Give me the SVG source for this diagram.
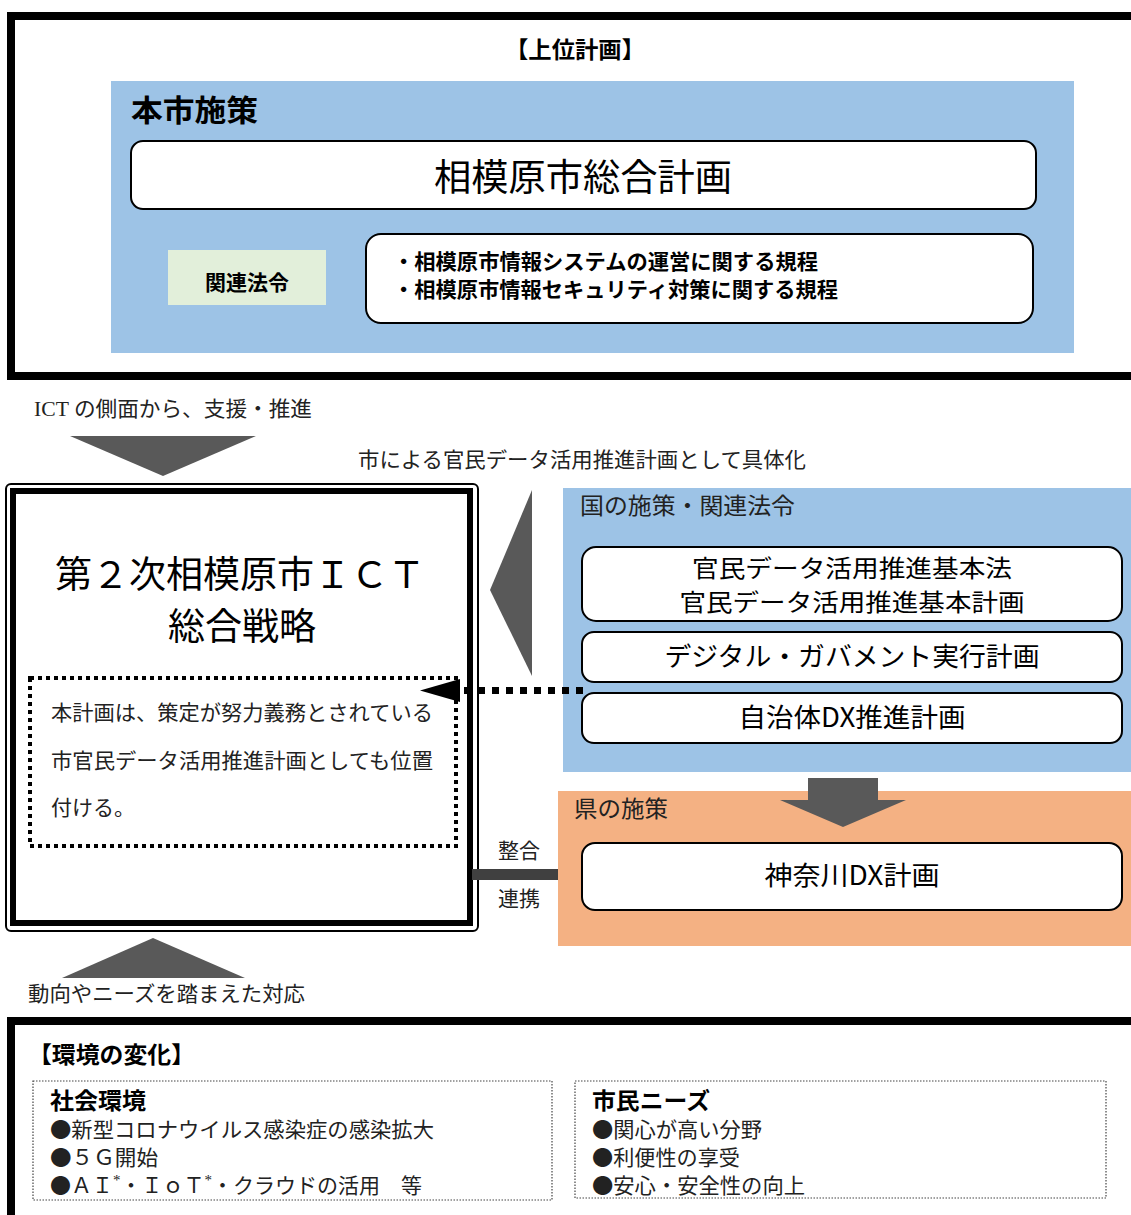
<svg xmlns="http://www.w3.org/2000/svg" width="1131" height="1215" viewBox="0 0 1131 1215">
<style>
.sans{font-family:"Noto Sans CJK JP","Noto Sans",sans-serif;fill:#000}
.b{font-weight:bold}
.ser{font-family:"Liberation Serif","Noto Sans CJK JP",serif;fill:#222}
.cjk{font-family:"Noto Sans CJK JP","Liberation Serif",sans-serif;fill:#222}
.ast{font-family:"Liberation Serif",serif;font-size:15px}
.box{fill:#fff;stroke:#000;stroke-width:2}
.tri{fill:#595959}
.dot{fill:none;stroke:#444;stroke-width:1.2;stroke-dasharray:1.5 1.5}
</style>
<rect width="1131" height="1215" fill="#fff"/>

<g id="upper-plan">
<rect x="11" y="16" width="1130" height="360" fill="none" stroke="#000" stroke-width="8"/>
<text class="sans b" x="505" y="58" font-size="23" textLength="140" lengthAdjust="spacingAndGlyphs">【上位計画】</text>
<rect x="111" y="81" width="963" height="272" fill="#9DC3E6"/>
<text class="sans b" x="131" y="121" font-size="30" textLength="127" lengthAdjust="spacingAndGlyphs">本市施策</text>
</g>
<g id="sogo-keikaku">
<rect class="box" x="131" y="141" width="905" height="68" rx="12"/>
<text class="sans" x="583" y="191" font-size="37" text-anchor="middle" textLength="298" lengthAdjust="spacingAndGlyphs">相模原市総合計画</text>
</g>
<g id="kanren-hourei">
<rect x="168" y="250" width="158" height="55" fill="#E2EFDA"/>
<text class="sans b" x="247" y="290" font-size="21" text-anchor="middle">関連法令</text>
</g>
<g id="kitei">
<rect class="box" x="366" y="234" width="667" height="89" rx="15"/>
<text class="sans b" x="393" y="269" font-size="21" textLength="425" lengthAdjust="spacingAndGlyphs">・相模原市情報システムの運営に関する規程</text>
<text class="sans b" x="393" y="297" font-size="21" textLength="445" lengthAdjust="spacingAndGlyphs">・相模原市情報セキュリティ対策に関する規程</text>
</g>

<g id="ict-strategy">
<rect x="6" y="484" width="472" height="447" rx="5" fill="#fff" stroke="#000" stroke-width="2"/>
<rect x="13" y="491" width="457" height="432" fill="none" stroke="#000" stroke-width="6"/>
<text class="sans" x="240" y="588" font-size="37" text-anchor="middle" textLength="370" lengthAdjust="spacingAndGlyphs">第２次相模原市ＩＣＴ</text>
<text class="sans" x="242" y="640" font-size="37" text-anchor="middle">総合戦略</text>
<rect x="30" y="678" width="426" height="168" fill="none" stroke="#000" stroke-width="4" stroke-dasharray="4 4"/>
<text class="ser" x="51" y="720" font-size="21" textLength="382" lengthAdjust="spacingAndGlyphs">本計画は、策定が努力義務とされている</text>
<text class="ser" x="51" y="768" font-size="21" textLength="382" lengthAdjust="spacingAndGlyphs">市官民データ活用推進計画としても位置</text>
<text class="ser" x="51" y="815" font-size="21">付ける。</text>
</g>

<g id="kuni">
<rect x="563" y="488" width="570" height="284" fill="#9DC3E6"/>
<text class="ser" x="580" y="514" font-size="23" textLength="215" lengthAdjust="spacingAndGlyphs">国の施策・関連法令</text>
</g>
<g id="kanmin-data">
<rect class="box" x="582" y="547" width="540" height="74" rx="14"/>
<text class="sans" x="852" y="577" font-size="24" text-anchor="middle" textLength="320" lengthAdjust="spacingAndGlyphs">官民データ活用推進基本法</text>
<text class="sans" x="852" y="611" font-size="24" text-anchor="middle" textLength="345" lengthAdjust="spacingAndGlyphs">官民データ活用推進基本計画</text>
</g>
<g id="digital-gov">
<rect class="box" x="582" y="632" width="540" height="50" rx="12"/>
<text class="sans" x="852" y="666" font-size="26.5" text-anchor="middle" textLength="375" lengthAdjust="spacingAndGlyphs">デジタル・ガバメント実行計画</text>
</g>
<g id="jichitai-dx">
<rect class="box" x="582" y="693" width="540" height="50" rx="12"/>
<text class="sans" x="852" y="727" font-size="26.5" text-anchor="middle" textLength="227" lengthAdjust="spacingAndGlyphs">自治体DX推進計画</text>
</g>

<g id="ken">
<rect x="558" y="791" width="575" height="155" fill="#F4B183"/>
<text class="ser" x="574" y="817" font-size="23" textLength="94" lengthAdjust="spacingAndGlyphs">県の施策</text>
</g>
<g id="kanagawa-dx">
<rect class="box" x="582" y="843" width="540" height="67" rx="13"/>
<text class="sans" x="852" y="885" font-size="26.5" text-anchor="middle" textLength="175" lengthAdjust="spacingAndGlyphs">神奈川DX計画</text>
</g>

<g id="environment">
<rect x="11" y="1021" width="1130" height="220" fill="none" stroke="#000" stroke-width="8"/>
<text class="sans b" x="28" y="1063" font-size="23" textLength="167" lengthAdjust="spacingAndGlyphs">【環境の変化】</text>
</g>
<g id="shakai-kankyo">
<rect class="dot" x="33" y="1081" width="519" height="119"/>
<text class="sans b" x="50" y="1109" font-size="23" textLength="96" lengthAdjust="spacingAndGlyphs">社会環境</text>
<text class="cjk" x="50" y="1137" font-size="21" textLength="384" lengthAdjust="spacingAndGlyphs">●新型コロナウイルス感染症の感染拡大</text>
<text class="cjk" x="50" y="1165" font-size="21" textLength="108" lengthAdjust="spacingAndGlyphs">●５Ｇ開始</text>
<text class="cjk" x="50" y="1193" font-size="21">●ＡＩ<tspan class="ast" dy="-8">*</tspan><tspan dy="8">・ＩｏＴ</tspan><tspan class="ast" dy="-8">*</tspan><tspan dy="8">・クラウドの活用　等</tspan></text>
</g>
<g id="shimin-needs">
<rect class="dot" x="575" y="1081" width="531" height="117"/>
<text class="sans b" x="592" y="1109" font-size="23" textLength="118" lengthAdjust="spacingAndGlyphs">市民ニーズ</text>
<text class="cjk" x="592" y="1137" font-size="21" textLength="170" lengthAdjust="spacingAndGlyphs">●関心が高い分野</text>
<text class="cjk" x="592" y="1165" font-size="21" textLength="148" lengthAdjust="spacingAndGlyphs">●利便性の享受</text>
<text class="cjk" x="592" y="1193" font-size="21" textLength="213" lengthAdjust="spacingAndGlyphs">●安心・安全性の向上</text>
</g>

<g id="connectors">
<polygon class="tri" points="70,436 256,436 163,476"/>
<text class="ser" x="34" y="416" font-size="21" textLength="278" lengthAdjust="spacingAndGlyphs">ICT の側面から、支援・推進</text>
<polygon class="tri" points="490,590 532,490 532,676"/>
<text class="ser" x="358" y="467" font-size="21" textLength="448" lengthAdjust="spacingAndGlyphs">市による官民データ活用推進計画として具体化</text>
<line x1="583" y1="690.5" x2="462" y2="690.5" stroke="#000" stroke-width="7" stroke-dasharray="7 7"/>
<polygon points="420,690.5 460,679 460,702" fill="#000"/>
<polygon class="tri" points="808,778 878,778 878,800 906,800 843,827 780,800 808,800"/>
<rect x="472" y="869" width="86" height="11" fill="#404040"/>
<text class="ser" x="498" y="858" font-size="21">整合</text>
<text class="ser" x="498" y="906" font-size="21">連携</text>
<polygon class="tri" points="62,978 245,978 153,938"/>
<text class="ser" x="28" y="1001" font-size="21" textLength="277" lengthAdjust="spacingAndGlyphs">動向やニーズを踏まえた対応</text>
</g>
</svg>
